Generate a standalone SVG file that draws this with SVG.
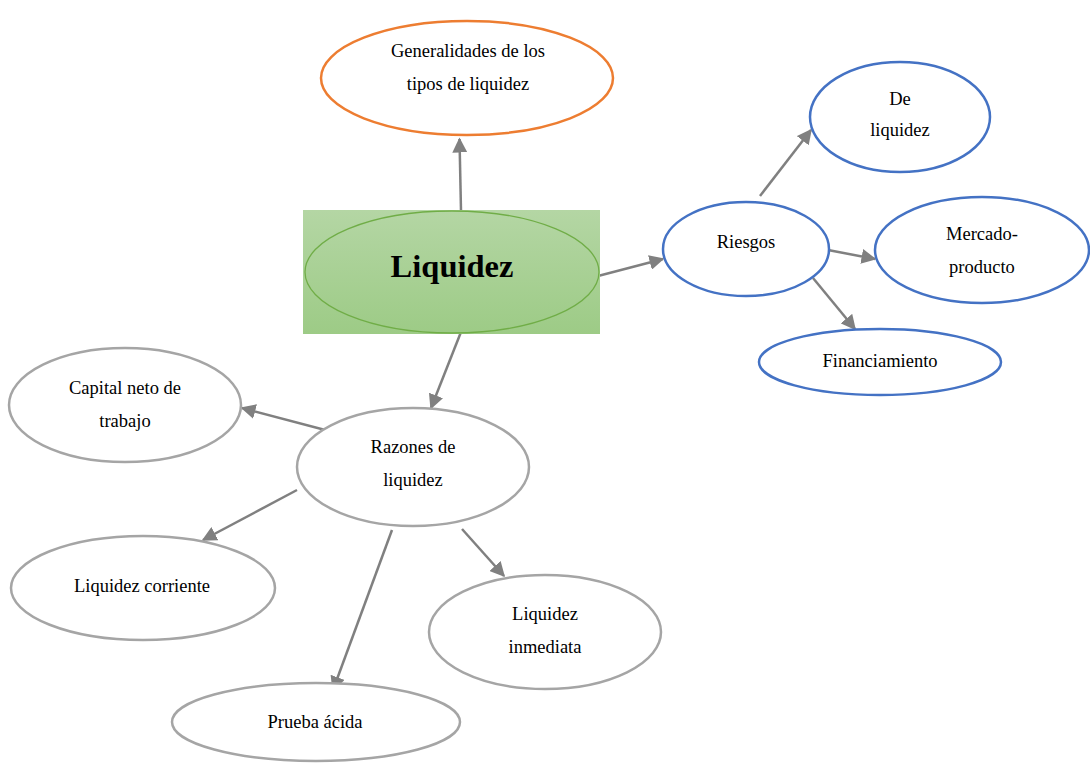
<svg xmlns="http://www.w3.org/2000/svg" width="1090" height="765" viewBox="0 0 1090 765">
<style>
  text { font-family: "Liberation Serif", "Times New Roman", serif; font-size: 18.5px; fill: #000; text-anchor: middle; }
  .title { font-size: 32.5px; font-weight: bold; }
  .orange { fill: #fff; stroke: #ed7d31; stroke-width: 2.5; }
  .blue { fill: #fff; stroke: #4472c4; stroke-width: 2.5; }
  .gray { fill: #fff; stroke: #a5a5a5; stroke-width: 2.5; }
  .conn { stroke: #808080; stroke-width: 2.5; fill: none; marker-end: url(#ah); }
</style>
<defs>
  <linearGradient id="g" x1="0" y1="0" x2="0" y2="1">
    <stop offset="0" stop-color="#b4d6a4"/>
    <stop offset="1" stop-color="#9dcb86"/>
  </linearGradient>
  <marker id="ah" viewBox="0 0 10 10" refX="9" refY="5" markerWidth="6" markerHeight="6" markerUnits="strokeWidth" orient="auto">
    <path d="M0,0 L10,5 L0,10 z" fill="#808080"/>
  </marker>
</defs>
<rect width="1090" height="765" fill="#fff"/>
<g id="connectors">
  <line class="conn" x1="461" y1="211" x2="459.5" y2="139"/>
  <line class="conn" x1="598" y1="276" x2="663" y2="259"/>
  <line class="conn" x1="760" y1="196" x2="811" y2="130"/>
  <line class="conn" x1="828" y1="250" x2="875" y2="259"/>
  <line class="conn" x1="813" y1="278" x2="855" y2="329"/>
  <line class="conn" x1="461" y1="332" x2="431" y2="408"/>
  <line class="conn" x1="329" y1="431" x2="242" y2="408"/>
  <line class="conn" x1="297" y1="490" x2="203" y2="540"/>
  <line class="conn" x1="392" y1="530" x2="333" y2="690"/>
  <line class="conn" x1="462" y1="529" x2="504" y2="576"/>
</g>
<g id="liquidez">
  <rect x="303" y="210" width="297" height="124" fill="url(#g)"/>
  <ellipse cx="452" cy="272" rx="147" ry="61" fill="none" stroke="#70ad47" stroke-width="1.3"/>
  <text class="title" x="452" y="277">Liquidez</text>
</g>
<g id="generalidades">
  <ellipse class="orange" cx="467" cy="78" rx="146" ry="57"/>
  <text x="468" y="57">Generalidades de los</text>
  <text x="468" y="90">tipos de liquidez</text>
</g>
<g id="riesgos">
  <ellipse class="blue" cx="746" cy="249" rx="83" ry="47"/>
  <text x="746" y="248">Riesgos</text>
</g>
<g id="de-liquidez">
  <ellipse class="blue" cx="900" cy="117" rx="90" ry="55"/>
  <text x="900" y="105">De</text>
  <text x="900" y="136">liquidez</text>
</g>
<g id="mercado">
  <ellipse class="blue" cx="982" cy="250" rx="107" ry="53"/>
  <text x="982" y="240">Mercado-</text>
  <text x="982" y="273">producto</text>
</g>
<g id="financiamiento">
  <ellipse class="blue" cx="880" cy="362" rx="121" ry="33"/>
  <text x="880" y="367">Financiamiento</text>
</g>
<g id="razones">
  <ellipse class="gray" cx="413" cy="467" rx="116" ry="59"/>
  <text x="413" y="453">Razones de</text>
  <text x="413" y="486">liquidez</text>
</g>
<g id="capital">
  <ellipse class="gray" cx="125" cy="405" rx="116" ry="57"/>
  <text x="125" y="394">Capital neto de</text>
  <text x="125" y="427">trabajo</text>
</g>
<g id="corriente">
  <ellipse class="gray" cx="143" cy="588" rx="132" ry="52"/>
  <text x="142" y="592">Liquidez corriente</text>
</g>
<g id="prueba">
  <ellipse class="gray" cx="316" cy="722" rx="144" ry="39"/>
  <text x="315" y="728">Prueba ácida</text>
</g>
<g id="inmediata">
  <ellipse class="gray" cx="545" cy="632" rx="116" ry="57"/>
  <text x="545" y="620">Liquidez</text>
  <text x="545" y="653">inmediata</text>
</g>
</svg>
